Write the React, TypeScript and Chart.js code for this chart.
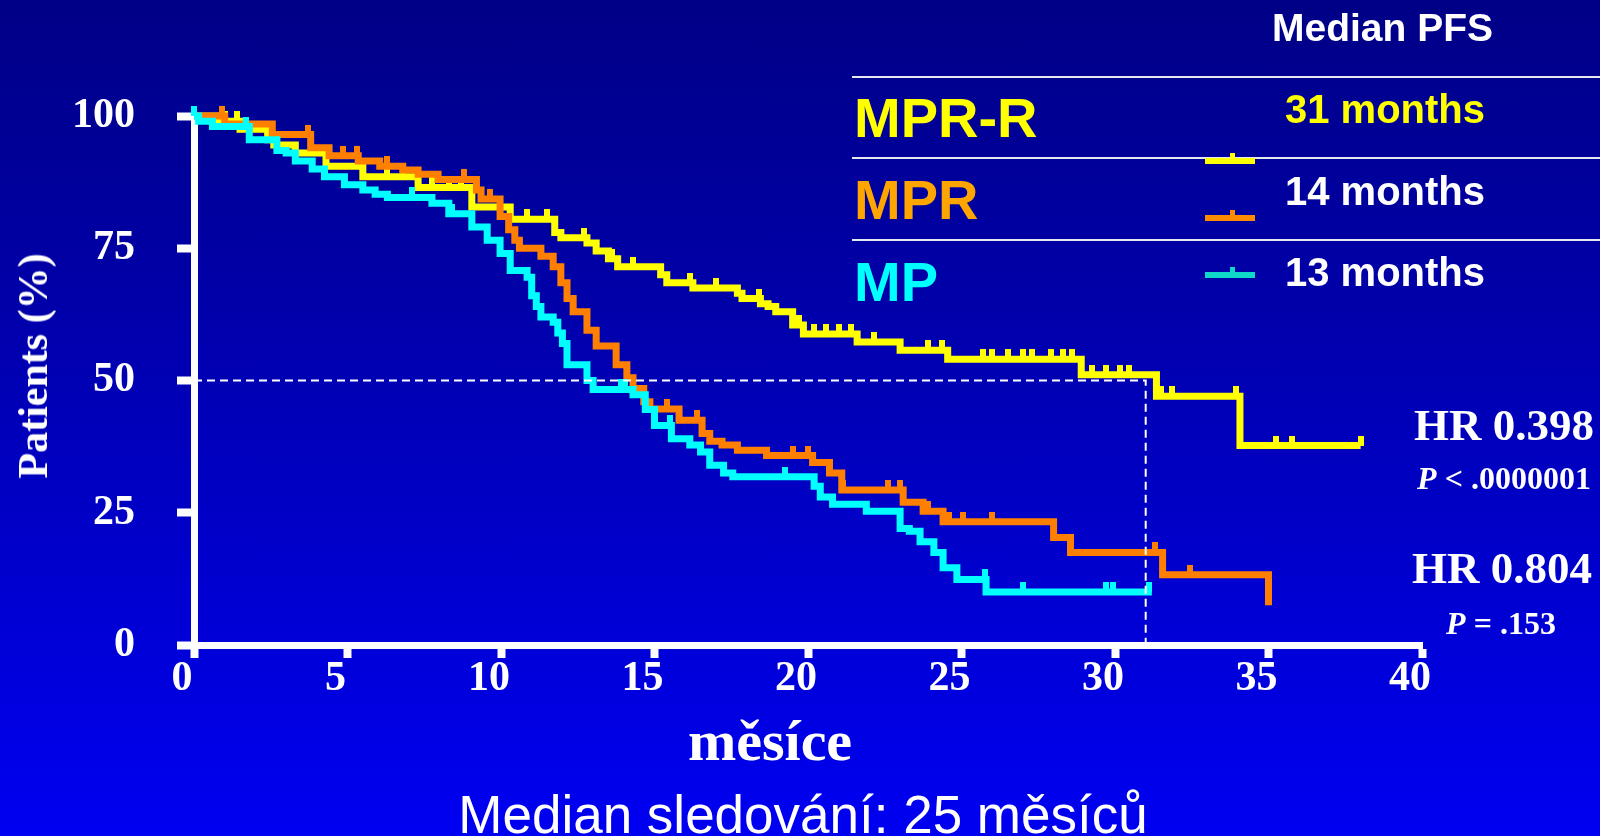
import React, { useEffect, useRef } from 'react';
import { Chart, registerables } from 'chart.js';

Chart.register(...registerables);

// ---------- DATA ----------
const xTickValues = [0, 5, 10, 15, 20, 25, 30, 35, 40];
const yTickValues = [0, 25, 50, 75, 100];

// MPR-R (yellow) Kaplan-Meier step times (months) and survival (%)
const mprrTimes = [0, 0.8, 1.5, 2.4, 2.6, 3.3, 4.3, 5.5, 7.3, 9.05, 10.3, 11.75, 11.95, 12.8, 13.1, 13.5, 13.8, 15.2, 15.4, 16.25, 17.7, 17.85, 18.45, 18.7, 18.95, 19.5, 19.85, 21.6, 23.0, 24.55, 28.9, 31.35, 34.07, 38.0];
const mprrSurv = [100, 99, 97.5, 95.5, 94.5, 93, 90.5, 88.5, 86.5, 82.8, 80.5, 78, 77, 76, 74.5, 73, 71.5, 70, 68.5, 67.5, 66.5, 65.5, 64.5, 64, 63, 60.5, 58.8, 57.3, 55.7, 54, 51.1, 47.0, 37.7, 37.7];
const mprrCensor = [1.0, 1.4, 2.7, 6.3, 6.8, 7.75, 8.3, 8.7, 10.85, 11.5, 12.7, 13.6, 14.3, 16.15, 17.0, 18.4, 19.7, 20.2, 20.6, 21.0, 21.4, 22.15, 23.9, 24.35, 25.7, 26.0, 26.5, 27.0, 27.3, 27.9, 28.3, 28.6, 29.25, 29.7, 30.15, 30.45, 31.5, 31.85, 33.95, 35.25, 35.75, 38.0];

// MPR (orange)
const mprTimes = [0, 1.0, 2.55, 3.8, 4.4, 5.35, 6.05, 6.8, 7.3, 7.95, 9.2, 9.35, 9.97, 10.25, 10.45, 10.6, 11.3, 11.7, 11.95, 12.15, 12.35, 12.8, 13.1, 13.75, 14.1, 14.3, 14.65, 14.85, 15.8, 16.55, 16.8, 17.2, 17.7, 18.65, 20.15, 20.7, 21.1, 23.1, 23.75, 24.4, 28.0, 28.55, 31.55, 35.0];
const mprSurv = [100, 98.5, 96.5, 94, 92.5, 91.5, 90.5, 89.8, 89, 88, 86, 84.3, 81, 78.5, 76.5, 75, 73.5, 71.5, 68.5, 65.5, 63, 59.5, 56.5, 53, 50.5, 48.5, 46, 44.6, 42.5, 40, 38.5, 37.8, 36.8, 35.8, 34.5, 32.5, 29.3, 27, 25.3, 23.3, 20.3, 17.5, 13.3, 7.5];
const mprCensor = [0.9, 3.7, 4.85, 5.3, 6.3, 8.8, 9.65, 15.4, 16.4, 19.5, 20.0, 21.15, 22.6, 23.0, 23.9, 24.6, 25.05, 26.0, 31.3, 32.45, 35.0];

// MP (cyan)
const mpTimes = [0, 0.15, 0.6, 1.8, 2.7, 3.0, 3.3, 3.85, 4.25, 4.9, 5.5, 5.9, 6.3, 7.75, 8.3, 9.05, 9.55, 9.97, 10.3, 10.85, 11.0, 11.15, 11.3, 11.7, 11.85, 12.0, 12.15, 12.8, 13.0, 14.3, 14.7, 15.0, 15.55, 16.15, 16.5, 16.8, 17.25, 17.55, 20.2, 20.4, 20.8, 21.9, 23.0, 23.3, 23.65, 24.1, 24.4, 24.85, 25.8, 31.2];
const mpSurv = [100, 99, 98, 95.5, 93.5, 93, 91.5, 90, 88.5, 87, 86, 85.2, 84.6, 83.5, 81.5, 79, 76.5, 74, 70.8, 69.5, 66, 64, 62, 61, 59, 57, 53, 50, 48.3, 47.3, 44.5, 41.5, 39, 37.8, 36.5, 34, 32.5, 31.8, 30, 28, 26.6, 25.3, 22, 21.5, 19.5, 17.5, 14.6, 12.4, 10.0, 10.0];
const mpCensor = [0, 1.7, 7.1, 8.4, 13.9, 14.05, 15.5, 19.25, 25.75, 27.0, 29.7, 29.95, 31.1];

const medianLevel = 50;
const mprrMedian = 31;

const groupNames = ['MPR-R', 'MPR', 'MP'];
const medianLabels = ['31 months', '14 months', '13 months'];
const hrLabels = ['HR 0.398', 'HR 0.804'];
const pLabels = ['< .0000001', '= .153'];

// ---------- STYLE ----------
const SERIF = "'Liberation Serif', 'Times New Roman', serif";
const SANS = "'Liberation Sans', Arial, sans-serif";
const YELLOW = '#FFFF00';
const ORANGE = '#FF8000';
const CYAN = '#00FFFF';

const curves = [
  { times: mpTimes, surv: mpSurv, censor: mpCensor, color: CYAN },
  { times: mprTimes, surv: mprSurv, censor: mprCensor, color: ORANGE },
  { times: mprrTimes, surv: mprrSurv, censor: mprrCensor, color: YELLOW },
];

function stepValue(times: number[], surv: number[], t: number) {
  let v = surv[0];
  for (let i = 0; i < times.length; i++) {
    if (times[i] <= t + 1e-9) v = surv[i];
  }
  return v;
}

const censorPlugin = {
  id: 'censorMarks',
  afterDatasetDraw(chart: any, args: any) {
    const idx = args.index;
    if (idx < 1 || idx > curves.length) return;
    const c = curves[idx - 1];
    const { ctx } = chart;
    const x = chart.scales.x;
    const y = chart.scales.y;
    ctx.save();
    ctx.fillStyle = c.color;
    c.censor.forEach((t) => {
      const s = stepValue(c.times, c.surv, t);
      const px = x.getPixelForValue(t);
      const py = y.getPixelForValue(s);
      ctx.fillRect(Math.round(px - 3), Math.round(py - 10), 6, 10);
    });
    ctx.restore();
  },
};

function Txt(props: {
  x: number; y: number; size: number; children: React.ReactNode;
  color?: string; family?: string; weight?: number; align?: 'left' | 'center' | 'right';
}) {
  const { x, y, size, children, color = '#fff', family = SANS, weight = 700, align = 'left' } = props;
  const tx = align === 'center' ? '-50%' : align === 'right' ? '-100%' : '0';
  return (
    <div
      style={{
        position: 'absolute',
        left: x,
        top: y - size / 2,
        fontSize: size,
        lineHeight: 1,
        fontFamily: family,
        fontWeight: weight,
        color,
        whiteSpace: 'nowrap',
        transform: `translateX(${tx})`,
      }}
    >
      {children}
    </div>
  );
}

export default function App() {
  const ref = useRef<HTMLCanvasElement>(null);

  useEffect(() => {
    const canvas = ref.current;
    if (!canvas) return;

    const curveDatasets = curves.map((c) => ({
      type: 'line' as const,
      data: c.times.map((t, i) => ({ x: t, y: c.surv[i] })),
      borderColor: c.color,
      backgroundColor: c.color,
      borderWidth: 7,
      stepped: 'before' as const,
      pointRadius: 0,
      fill: false,
      tension: 0,
      borderJoinStyle: 'miter' as const,
      borderCapStyle: 'butt' as const,
      clip: false as const,
    }));

    const chart = new Chart(canvas, {
      type: 'line',
      data: {
        datasets: [
          {
            data: [
              { x: 0, y: medianLevel },
              { x: mprrMedian, y: medianLevel },
              { x: mprrMedian, y: 0 },
            ],
            borderColor: '#FFFFFF',
            borderWidth: 2,
            borderDash: [8, 5],
            pointRadius: 0,
            fill: false,
            tension: 0,
          },
          ...curveDatasets,
        ] as any,
      },
      options: {
        animation: false,
        responsive: false,
        maintainAspectRatio: false,
        events: [],
        layout: { padding: { left: 0, top: 116, right: 178, bottom: 111 } },
        plugins: {
          legend: { display: false },
          tooltip: { enabled: false },
          title: { display: false },
        },
        scales: {
          x: {
            type: 'linear',
            min: 0,
            max: 40,
            afterBuildTicks: (scale: any) => {
              scale.ticks = xTickValues.map((v) => ({ value: v }));
            },
            afterFit: (scale: any) => {
              scale.height = 80;
            },
            ticks: {
              color: '#FFFFFF',
              padding: 0,
              labelOffset: -12,
              maxRotation: 0,
              autoSkip: false,
              font: { family: SERIF, size: 42, weight: 'bold', lineHeight: 1 },
            },
            grid: {
              drawOnChartArea: false,
              drawTicks: true,
              tickLength: 13,
              tickWidth: 8,
              tickColor: '#FFFFFF',
            },
            border: { display: true, color: '#FFFFFF', width: 7 },
          },
          y: {
            type: 'linear',
            min: 0,
            max: 100,
            afterBuildTicks: (scale: any) => {
              scale.ticks = yTickValues.map((v) => ({ value: v }));
            },
            afterFit: (scale: any) => {
              scale.width = 194;
            },
            ticks: {
              color: '#FFFFFF',
              padding: 42,
              autoSkip: false,
              font: { family: SERIF, size: 42, weight: 'bold', lineHeight: 1 },
            },
            grid: {
              drawOnChartArea: false,
              drawTicks: true,
              tickLength: 17,
              tickWidth: 8,
              tickColor: '#FFFFFF',
            },
            border: { display: true, color: '#FFFFFF', width: 7 },
          },
        },
      } as any,
      plugins: [censorPlugin],
    });

    return () => chart.destroy();
  }, []);

  const legendColors = [YELLOW, '#FFA500', CYAN];
  const legendSymColors = [YELLOW, '#FF8C00', '#10D8C8'];
  const legendMedianColors = [YELLOW, '#FFFFFF', '#FFFFFF'];
  const rowY = [118, 200, 282];
  const medY = [109, 191, 272];
  const symY = [161, 218, 275];
  const lineY = [76, 157, 239];

  return (
    <div
      style={{
        position: 'absolute',
        left: 0,
        top: 0,
        width: 1600,
        height: 836,
        overflow: 'hidden',
        background: 'linear-gradient(to bottom, #000086 0%, #0000A8 35%, #0000F2 100%)',
      }}
    >
      <canvas
        ref={ref}
        width={1600}
        height={836}
        style={{ position: 'absolute', left: 0, top: 0, width: 1600, height: 836 }}
      />

      {/* Legend table */}
      <Txt x={1272} y={27} size={39}>Median PFS</Txt>
      {lineY.map((ly, i) => (
        <div
          key={'l' + i}
          style={{ position: 'absolute', left: 852, top: ly, width: 748, height: 2, background: '#E6E6F0' }}
        />
      ))}
      {groupNames.map((g, i) => (
        <Txt key={'g' + i} x={854} y={rowY[i]} size={56} color={legendColors[i]}>{g}</Txt>
      ))}
      {medianLabels.map((m, i) => (
        <Txt key={'m' + i} x={1285} y={medY[i]} size={40} color={legendMedianColors[i]}>{m}</Txt>
      ))}
      {symY.map((sy, i) => (
        <React.Fragment key={'s' + i}>
          <div style={{ position: 'absolute', left: 1205, top: sy - 3, width: 50, height: 6, background: legendSymColors[i] }} />
          <div style={{ position: 'absolute', left: 1230, top: sy - 8, width: 5, height: 6, background: legendSymColors[i] }} />
        </React.Fragment>
      ))}

      {/* Hazard ratios */}
      <Txt x={1504} y={425} size={45} family={SERIF} align="center">{hrLabels[0]}</Txt>
      <Txt x={1504} y={478} size={32} family={SERIF} align="center">
        <i>P</i> {pLabels[0]}
      </Txt>
      <Txt x={1502} y={568} size={45} family={SERIF} align="center">{hrLabels[1]}</Txt>
      <Txt x={1501} y={623} size={32} family={SERIF} align="center">
        <i>P</i> {pLabels[1]}
      </Txt>

      {/* Axis titles */}
      <div
        style={{
          position: 'absolute',
          left: 33,
          top: 366,
          fontSize: 42,
          lineHeight: 1,
          fontFamily: SERIF,
          fontWeight: 700,
          color: '#fff',
          whiteSpace: 'nowrap',
          transform: 'translate(-50%, -50%) rotate(-90deg)',
        }}
      >
        Patients (%)
      </div>
      <Txt x={770} y={741} size={58} family={SERIF} align="center">měsíce</Txt>
      <Txt x={803} y={814} size={53} weight={400} align="center">Median sledování: 25 měsíců</Txt>
    </div>
  );
}
